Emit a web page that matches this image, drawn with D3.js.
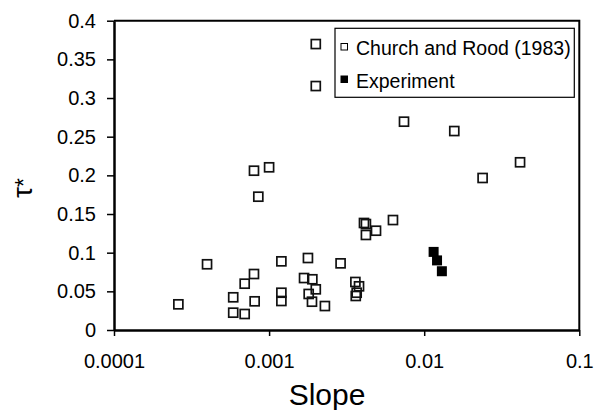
<!DOCTYPE html>
<html>
<head>
<meta charset="utf-8">
<script src="https://cdn.jsdelivr.net/npm/d3@7"></script>
<style>
  html, body { margin: 0; padding: 0; background: #fff; }
  svg { display: block; font-family: "Liberation Sans", Arial, sans-serif; }
</style>
</head>
<body>
<svg id="chart" width="602" height="410"></svg>
<script>
// Church and Rood (1983) data: bed slope and critical Shields stress
const churchSlope = [0.00026, 0.000398, 0.000587, 0.000587, 0.000696, 0.000696, 0.000799, 0.000807,
  0.0012, 0.0012, 0.0012, 0.00178, 0.00168, 0.0019, 0.0020, 0.0018, 0.00189, 0.00229, 0.00289,
  0.0036, 0.0038, 0.00367, 0.00362, 0.00409, 0.00421, 0.00421, 0.00489, 0.00629,
  0.0020, 0.0020, 0.000799, 0.0010, 0.000852, 0.00741, 0.01563, 0.0415, 0.0238];
const churchTau = [0.0332, 0.085, 0.0423, 0.0224, 0.0207, 0.0599, 0.0724, 0.0371,
  0.0888, 0.0482, 0.0375, 0.0931, 0.0672, 0.0656, 0.0526, 0.0466, 0.0366, 0.031, 0.0862,
  0.0621, 0.0565, 0.0482, 0.044, 0.1384, 0.137, 0.1229, 0.1284, 0.1422,
  0.3698, 0.3155, 0.206, 0.2104, 0.1724, 0.2694, 0.2573, 0.2169, 0.1966];

// Experimental runs
const expSlope = [0.0115, 0.0121, 0.0130];
const expTau = [0.101, 0.090, 0.076];

// Axis ticks
const xTickValues = [0.0001, 0.001, 0.01, 0.1];
const xTickLabels = ["0.0001", "0.001", "0.01", "0.1"];
const yTickValues = [0, 0.05, 0.1, 0.15, 0.2, 0.25, 0.3, 0.35, 0.4];
const yTickLabels = ["0", "0.05", "0.1", "0.15", "0.2", "0.25", "0.3", "0.35", "0.4"];

const seriesNames = ["Church and Rood (1983)", "Experiment"];

const svg = d3.select("#chart");
const plotLeft = 114, plotRight = 579.3, plotTop = 20.7, plotBottom = 330;

const x = d3.scaleLog().domain([0.0001, 0.1]).range([plotLeft, plotRight]);
const y = d3.scaleLinear().domain([0, 0.4]).range([plotBottom, plotTop]);

// Plot frame (top and right edges)
svg.append("path")
  .attr("d", `M${plotLeft},${plotTop}H${plotRight}V${plotBottom}`)
  .attr("fill", "none").attr("stroke", "#000").attr("stroke-width", 2);

// X axis
const xAxis = d3.axisBottom(x)
  .tickValues(xTickValues)
  .tickFormat((d, i) => xTickLabels[i])
  .tickSizeInner(6).tickSizeOuter(0).tickPadding(18);
const gx = svg.append("g").attr("transform", `translate(0,${plotBottom})`).call(xAxis);
gx.select(".domain").attr("stroke-width", 2.5);
gx.selectAll(".tick line").attr("stroke-width", 1.5);
gx.selectAll(".tick text").attr("font-size", 20).attr("font-family", "Liberation Sans, Arial, sans-serif").attr("fill", "#000");

// Y axis
const yAxis = d3.axisLeft(y)
  .tickValues(yTickValues)
  .tickFormat((d, i) => yTickLabels[i])
  .tickSizeInner(7).tickSizeOuter(0).tickPadding(11);
const gy = svg.append("g").attr("transform", `translate(${plotLeft},0)`).call(yAxis);
gy.select(".domain").attr("stroke-width", 2.5);
gy.selectAll(".tick line").attr("stroke-width", 1.5);
gy.selectAll(".tick text").attr("font-size", 20).attr("font-family", "Liberation Sans, Arial, sans-serif").attr("fill", "#000");

// Axis titles
svg.append("text")
  .attr("x", 327).attr("y", 405)
  .attr("text-anchor", "middle")
  .attr("font-size", 30)
  .text("Slope");

const yTitle = svg.append("text")
  .attr("transform", "translate(32,198) rotate(-90)");
yTitle.append("tspan").attr("font-size", 28).text("τ");
yTitle.append("tspan").attr("font-size", 23).text("*");

// Markers
const ms = 9;
const church = churchSlope.map((s, i) => ({ s, t: churchTau[i] }));
const exp = expSlope.map((s, i) => ({ s, t: expTau[i] }));

svg.append("g").selectAll("rect")
  .data(church).join("rect")
  .attr("x", d => x(d.s) - ms / 2)
  .attr("y", d => y(d.t) - ms / 2)
  .attr("width", ms).attr("height", ms)
  .attr("fill", "none").attr("stroke", "#111").attr("stroke-width", 1.7);

svg.append("g").selectAll("rect")
  .data(exp).join("rect")
  .attr("x", d => x(d.s) - 5)
  .attr("y", d => y(d.t) - 5)
  .attr("width", 10).attr("height", 10)
  .attr("fill", "#000");

// Legend
const lg = svg.append("g");
lg.append("rect")
  .attr("x", 335).attr("y", 28.3).attr("width", 239.3).attr("height", 69)
  .attr("fill", "#fff").attr("stroke", "#000").attr("stroke-width", 1.2);
lg.append("rect")
  .attr("x", 341).attr("y", 43.5).attr("width", 6.5).attr("height", 6.5)
  .attr("fill", "#fff").attr("stroke", "#000").attr("stroke-width", 1);
lg.append("rect")
  .attr("x", 340.5).attr("y", 75.5).attr("width", 7.5).attr("height", 7.5)
  .attr("fill", "#000");
lg.append("text").attr("x", 356).attr("y", 55).attr("font-size", 19.5).text(seriesNames[0]);
lg.append("text").attr("x", 356).attr("y", 87.5).attr("font-size", 19.5).text(seriesNames[1]);
</script>
</body>
</html>
